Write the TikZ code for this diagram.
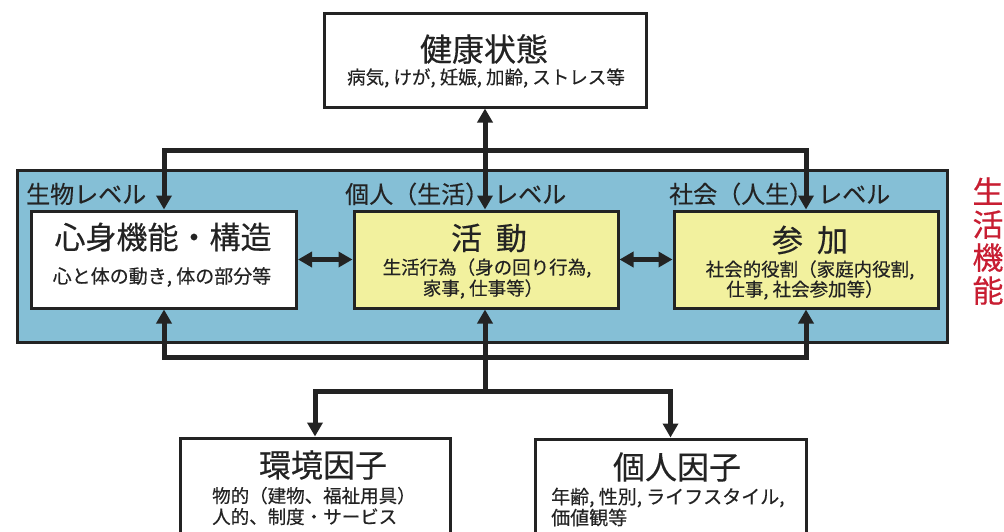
\documentclass[tikz,border=0pt]{standalone}
\usepackage{fontspec}
\setmainfont{Noto Sans CJK JP}[FakeBold=0.35]
\usetikzlibrary{arrows.meta}
\definecolor{panelblue}{RGB}{133,191,214}
\definecolor{boxyellow}{RGB}{242,241,158}
\definecolor{lifered}{RGB}{200,30,50}
\definecolor{inkgray}{RGB}{35,35,35}
\newcommand\setfs[2]{\fontsize{#1}{#2}\selectfont}
\begin{document}
\begin{tikzpicture}[x=1pt,y=-1pt,
  >={Triangle[length=14pt,width=15pt]},
  box/.style={draw=inkgray, line width=3pt, inner sep=0pt, fill=white},
  ybox/.style={box, fill=boxyellow},
  conn/.style={draw=inkgray, line width=5pt},
  title/.style={inner sep=0pt, text=inkgray, font=\setfs{31}{34}},
  sub/.style={inner sep=0pt, text=inkgray, font=\setfs{18.5}{21}, align=center},
  level/.style={inner sep=0pt, text=inkgray, font=\setfs{24}{26}, anchor=west}]
\useasboundingbox (0,0) rectangle (1004,531);
\clip (0,0) rectangle (1004,531);
\fill[white] (0,0) rectangle (1004,531);

% panel
\draw[fill=panelblue, draw=inkgray, line width=3pt] (17,170) rectangle (947,342);

% boxes
\node[box, minimum width=322, minimum height=94] (health) at (485,60) {};
\node[box, minimum width=265, minimum height=97] (bio) at (164,259.5) {};
\node[ybox, minimum width=264, minimum height=97] (act) at (486,259.5) {};
\node[ybox, minimum width=264, minimum height=97] (part) at (806,259.5) {};
\node[box, minimum width=270, minimum height=124] (env) at (315,500) {};
\node[box, minimum width=271, minimum height=124] (pers) at (670.5,501) {};

% texts
\node[title, font=\setfs{32}{34}] (health-t) at (484,49) {健康状態};
\node[sub] (health-s) at (486,78) {病気, けが, 妊娠, 加齢, ストレス等};

\node[title] (bio-t) at (163,237) {心身機能・構造};
\node[sub, font=\setfs{19}{21}] (bio-s) at (162,277) {心と体の動き, 体の部分等};

\node[title] (act-t) at (489,238) {活\hspace{0.45em}動};
\node[sub] (act-s1) at (487,268) {生活行為（身の回り行為,};
\node[sub] (act-s2) at (483,289) {家事, 仕事等）};

\node[title] (part-t) at (810,240) {参\hspace{0.45em}加};
\node[sub] (part-s1) at (810,270) {社会的役割（家庭内役割,};
\node[sub] (part-s2) at (805,290) {仕事, 社会参加等）};

\node[title, font=\setfs{32}{34}] (env-t) at (323,465) {環境因子};
\node[sub, align=left, anchor=west] (env-s) at (212,506) {物的（建物、福祉用具）\\人的、制度・サービス};

\node[title, font=\setfs{32}{34}] (pers-t) at (677,467) {個人因子};
\node[sub, align=left, anchor=west, font=\setfs{19}{21}] (pers-s) at (551,507) {年齢, 性別, ライフスタイル,\\価値観等};

% level labels
\node[level] (lv1) at (26,194) {生物レベル};
\node[level] (lv2) at (345,194) {個人（生活）\hspace{5pt}レベル};
\node[level] (lv3) at (669,194) {社会（人生）\hspace{5pt}レベル};

% vertical red label
\node[inner sep=0pt, text=lifered, font=\setfs{31}{33}, align=center] (life) at (988,241) {生\\活\\機\\能};

% connectors
\coordinate (ty) at (0,150);
\coordinate (by) at (0,357);
\coordinate (fy) at (0,391);
\draw[conn, <->] (health.south) -- (health.south |- act.north);
\draw[conn, <->] (bio.north) -- (bio.north |- ty) -- (part.north |- ty) -- (part.north);
\draw[conn, <->] (bio.south) -- (bio.south |- by) -- (part.south |- by) -- (part.south);
\draw[conn, ->] (health.south |- fy) -- (health.south |- act.south);
\draw[conn, <->] (env.north) -- (env.north |- fy) -- (pers.north |- fy) -- (pers.north);
\draw[conn, <->] (bio.east) -- (act.west);
\draw[conn, <->] (act.east) -- (part.west);
\end{tikzpicture}
\end{document}
